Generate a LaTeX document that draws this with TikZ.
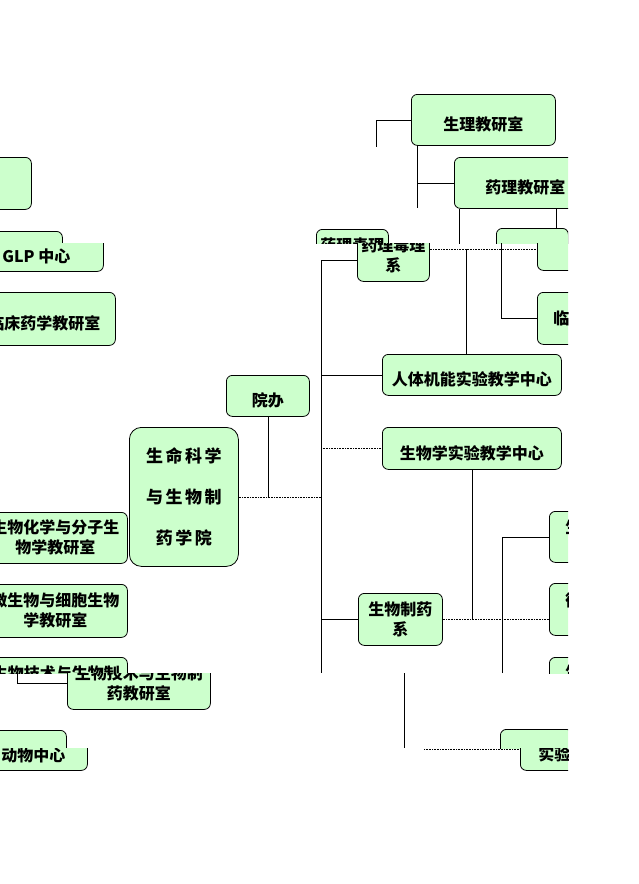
\documentclass[tikz,border=0pt]{standalone}
\usepackage{fontspec}
\newfontfamily\cjk{Noto Sans CJK SC}
\definecolor{boxgreen}{HTML}{CCFFCC}
\tikzset{
  unit/.style={draw, fill=boxgreen, rounded corners=6pt, line width=0.8pt,
    inner sep=0pt, anchor=north west, align=center,
    font=\cjk\bfseries\fontsize{16}{20}\selectfont},
  boxsize/.style 2 args={minimum width=#1pt, minimum height=#2pt},
  low/.style={text height=24pt, text depth=2pt},
  cut/.style={align=left, text width=40pt, inner xsep=#1pt},
  link/.style={line width=0.6pt},
  dlink/.style={line width=0.6pt, densely dotted},
}
\begin{document}
\begin{tikzpicture}[x=1pt, y=-1pt]
  \useasboundingbox (0,0) rectangle (639,884);
  \clip (0,0) rectangle (568,884);
  % upper strip
  \begin{scope}
    \clip (-100,0) rectangle (568,243);
    \node[unit, boxsize={144}{51}, low] (sl) at (411,94) {生理教研室};
    \node[unit, boxsize={142}{51}, low] (yl) at (454,157) {药理教研室};
    \node[unit, boxsize={71}{52}] (kb) at (-40,157) {};
    \node[unit, boxsize={134}{40}] (glp-a) at (-72,231) {};
    \node[unit, boxsize={72}{52}] (yd-a) at (316,229) {药理毒理\\系};
    \node[unit, boxsize={72}{42}] (r1-a) at (496,228) {};
    \coordinate (sl-end) at (376,147);
    \coordinate (sl-foot) at (417,208);
    \draw[link] (sl.west) -| (sl-end);
    \draw[link] (sl.south west -| sl-foot) -- (sl-foot);
    \draw[link] (sl-foot |- yl.west) -- (yl.west);
    \draw[link] ([xshift=5pt]yl.south west) -- ++(0,40);
    \draw[link] ([xshift=31pt]yl.south) -- ([xshift=31pt]yl.south |- r1-a.north);
  \end{scope}
  % middle strip
  \begin{scope}
    \clip (-100,243) rectangle (568,673);
    \node[unit, boxsize={134}{40}, low] (glp) at (-31,231) {GLP 中心};
    \node[unit, boxsize={72}{52}] (yd) at (357,229) {药理毒理\\系};
    \node[unit, boxsize={72}{42}] (r1) at (537,228) {};
    \node[unit, boxsize={142}{53}, low] (lc) at (-27,292) {临床药学教研室};
    \node[unit, boxsize={72}{52}, cut=16] (r2) at (537,292) {临};
    \node[unit, boxsize={179}{41}, low] (rt) at (382,354) {人体机能实验教学中心};
    \node[unit, boxsize={179}{42}, low] (sw) at (382,427) {生物学实验教学中心};
    \node[unit, boxsize={83}{41}, low] (yb) at (226,375) {院办};
    \node[unit, boxsize={109}{139}, rounded corners=12pt,
      font=\cjk\bfseries\fontsize{17}{41}\selectfont\addfontfeature{LetterSpace=15}]
      (xy) at (129,427) {生命科学\\与生物制\\药学院};
    \node[unit, boxsize={144}{51}] (sh) at (-17,512) {生物化学与分子生\\物学教研室};
    \node[unit, boxsize={144}{53}] (ws) at (-17,584) {微生物与细胞生物\\学教研室};
    \node[unit, boxsize={84}{52}] (zy) at (358,593) {生物制药\\系};
    \node[unit, boxsize={72}{51}, cut=8] (r3) at (549,511) {生\\\mbox{}};
    \node[unit, boxsize={72}{52}, cut=8] (r4) at (549,583) {微\\\mbox{}};
    \node[unit, boxsize={72}{48}, cut=8] (r5) at (549,657) {生\\\mbox{}};
    \node[unit, boxsize={143}{52}] (js-b) at (-16,657) {生物技术与生物制\\药教研室};
    \coordinate (trunk) at (321,260);
    \coordinate (trunk-end) at (321,673);
    \coordinate (r2-top) at (501,243);
    \coordinate (r-trunk) at (502,673);
    \draw[link] (trunk) -- (trunk-end);
    \draw[link] (trunk) -- (trunk -| yd.west);
    \draw[dlink] (r1.west -| yd.east) -- (r1.west);
    \draw[link] ([xshift=-6pt]rt.north) -- ([xshift=-6pt]rt.north |- r1.west);
    \draw[link] (r2-top) |- (r2.west);
    \draw[link] (trunk |- rt.west) -- (rt.west);
    \draw[dlink] (trunk |- sw.west) -- (sw.west);
    \draw[dlink] (xy.east) -- (xy.east -| trunk);
    \draw[link] (yb.south) -- (yb.south |- xy.east);
    \draw[link] (trunk |- zy.west) -- (zy.west);
    \draw[link] (sw.south) -- (sw.south |- zy.east);
    \draw[dlink] (zy.east) -- (zy.east -| r4.west);
    \draw[link] (r-trunk) |- (r3.west);
  \end{scope}
  % lower strip
  \begin{scope}
    \clip (-100,673) rectangle (568,748);
    \node[unit, boxsize={143}{52}] (js) at (67,657) {生物技术与生物制\\药教研室};
    \node[unit, boxsize={108}{40}] (dw-c) at (-42,730) {};
    \node[unit, boxsize={72}{41}] (sy-c) at (500,729) {};
    \coordinate (l-trunk) at (17,673);
    \coordinate (c-trunk) at (404,673);
    \coordinate (c-foot) at (404,748);
    \draw[link] (l-trunk) |- (js.west);
    \draw[link] (c-trunk) -- (c-foot);
  \end{scope}
  % bottom strip
  \begin{scope}
    \clip (-100,748) rectangle (568,884);
    \node[unit, boxsize={108}{40}, low] (dw) at (-21,730) {动物中心};
    \node[unit, boxsize={72}{41}, low, cut=18] (sy) at (520,729) {实验};
    \coordinate (d-trunk) at (424,749);
    \draw[dlink] (d-trunk) -- (d-trunk -| sy.west);
  \end{scope}
\end{tikzpicture}
\end{document}
